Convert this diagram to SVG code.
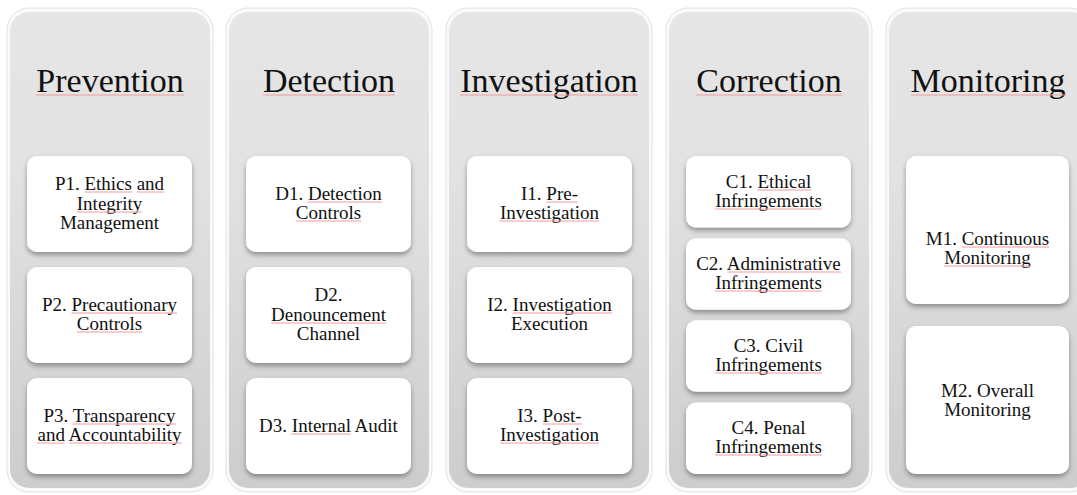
<svg xmlns="http://www.w3.org/2000/svg" width="1077" height="495" viewBox="0 0 1077 495">
<style>
.colrim{fill:#fafafa;stroke:#e2e2e2;stroke-width:1}
.colbody{fill:url(#colg)}
.node{fill:#ffffff;filter:url(#sh)}
.title{font-family:"Liberation Serif","Times New Roman",serif;font-size:34px;fill:#111;text-anchor:middle}
.lbl{font-family:"Liberation Serif","Times New Roman",serif;font-size:19px;fill:#111;text-anchor:middle}
.ul{stroke:#f19a9a;stroke-width:1;fill:none}
</style>
<defs>
<linearGradient id="colg" x1="0" y1="0" x2="0" y2="1">
<stop offset="0" stop-color="#e6e6e6"/>
<stop offset="0.35" stop-color="#e2e2e2"/>
<stop offset="1" stop-color="#cdcdcd"/>
</linearGradient>
<filter id="sh" x="-10%" y="-10%" width="120%" height="130%">
<feDropShadow dx="0" dy="3" stdDeviation="2.5" flood-color="#000" flood-opacity="0.35"/>
</filter>
</defs>
<rect width="1077" height="495" fill="#ffffff"/>

<g id="col-prevention">
<rect class="colrim" x="7" y="8" width="206" height="484" rx="22"/>
<rect class="colbody" x="10" y="12" width="200" height="476" rx="19"/>
<text class="title" x="110" y="92">Prevention</text>
<line class="ul" x1="36" y1="95" x2="184" y2="95"/>
</g>
<g id="col-detection">
<rect class="colrim" x="226" y="8" width="206" height="484" rx="22"/>
<rect class="colbody" x="229" y="12" width="200" height="476" rx="19"/>
<text class="title" x="329" y="92">Detection</text>
<line class="ul" x1="263" y1="95" x2="395" y2="95"/>
</g>
<g id="col-investigation">
<rect class="colrim" x="446" y="8" width="206" height="484" rx="22"/>
<rect class="colbody" x="449" y="12" width="200" height="476" rx="19"/>
<text class="title" x="549" y="92">Investigation</text>
<line class="ul" x1="460" y1="95" x2="638" y2="95"/>
</g>
<g id="col-correction">
<rect class="colrim" x="666" y="8" width="206" height="484" rx="22"/>
<rect class="colbody" x="669" y="12" width="200" height="476" rx="19"/>
<text class="title" x="769" y="92">Correction</text>
<line class="ul" x1="696" y1="95" x2="842" y2="95"/>
</g>
<g id="col-monitoring">
<rect class="colrim" x="886" y="8" width="206" height="484" rx="22"/>
<rect class="colbody" x="889" y="12" width="200" height="476" rx="19"/>
<text class="title" x="988" y="92">Monitoring</text>
<line class="ul" x1="911" y1="95" x2="1066" y2="95"/>
</g>

<g id="P1">
<rect class="node" x="27" y="156" width="165" height="96" rx="10"/>
<text class="lbl" x="109.5" y="190">P1. Ethics and</text>
<text class="lbl" x="109.5" y="210">Integrity</text>
<text class="lbl" x="109.5" y="229">Management</text>
<path class="ul" d="M84.5 192H132M136.8 192H164.2M76.8 212H142.2"/>
</g>
<g id="P2">
<rect class="node" x="27" y="267" width="165" height="96" rx="10"/>
<text class="lbl" x="109.5" y="311">P2. Precautionary</text>
<text class="lbl" x="109.5" y="330">Controls</text>
<path class="ul" d="M71.5 313H177M76.8 332H142.2"/>
</g>
<g id="P3">
<rect class="node" x="27" y="378" width="165" height="96" rx="10"/>
<text class="lbl" x="109.5" y="422">P3. Transparency</text>
<text class="lbl" x="109.5" y="441">and Accountability</text>
<path class="ul" d="M72.6 424H176M37.1 443H64.5M69.3 443H181.9"/>
</g>

<g id="D1">
<rect class="node" x="246" y="156" width="165" height="96" rx="10"/>
<text class="lbl" x="328.5" y="200">D1. Detection</text>
<text class="lbl" x="328.5" y="219">Controls</text>
<path class="ul" d="M307.9 202H381.8M295.8 221H361.3"/>
</g>
<g id="D2">
<rect class="node" x="246" y="267" width="165" height="96" rx="10"/>
<text class="lbl" x="328.5" y="301">D2.</text>
<text class="lbl" x="328.5" y="321">Denouncement</text>
<text class="lbl" x="328.5" y="340">Channel</text>
<path class="ul" d="M271 323H386"/>
</g>
<g id="D3">
<rect class="node" x="246" y="378" width="165" height="96" rx="10"/>
<text class="lbl" x="328.5" y="432">D3. Internal Audit</text>
<path class="ul" d="M291.3 434H350.4"/>
</g>

<g id="I1">
<rect class="node" x="467" y="156" width="165" height="96" rx="10"/>
<text class="lbl" x="549.5" y="200">I1. Pre-</text>
<text class="lbl" x="549.5" y="219">Investigation</text>
<path class="ul" d="M546.3 202H578M499.9 221H599.1"/>
</g>
<g id="I2">
<rect class="node" x="467" y="267" width="165" height="96" rx="10"/>
<text class="lbl" x="549.5" y="311">I2. Investigation</text>
<text class="lbl" x="549.5" y="330">Execution</text>
<path class="ul" d="M512.5 313H611.8"/>
</g>
<g id="I3">
<rect class="node" x="467" y="378" width="165" height="96" rx="10"/>
<text class="lbl" x="549.5" y="422">I3. Post-</text>
<text class="lbl" x="549.5" y="441">Investigation</text>
<path class="ul" d="M542.6 424H581.7M499.9 443H599.1"/>
</g>

<g id="C1">
<rect class="node" x="686" y="156" width="165" height="71.5" rx="10"/>
<text class="lbl" x="768.5" y="188">C1. Ethical</text>
<text class="lbl" x="768.5" y="207">Infringements</text>
<path class="ul" d="M757.4 190H811.3M715.2 209H821.8"/>
</g>
<g id="C2">
<rect class="node" x="686" y="238.2" width="165" height="71.5" rx="10"/>
<text class="lbl" x="768.5" y="270">C2. Administrative</text>
<text class="lbl" x="768.5" y="289">Infringements</text>
<path class="ul" d="M727.4 272H841.4M715.2 291H821.8"/>
</g>
<g id="C3">
<rect class="node" x="686" y="320.3" width="165" height="71.5" rx="10"/>
<text class="lbl" x="768.5" y="352">C3. Civil</text>
<text class="lbl" x="768.5" y="371">Infringements</text>
<path class="ul" d="M715.2 373H821.8"/>
</g>
<g id="C4">
<rect class="node" x="686" y="402.5" width="165" height="71.5" rx="10"/>
<text class="lbl" x="768.5" y="434">C4. Penal</text>
<text class="lbl" x="768.5" y="453">Infringements</text>
<path class="ul" d="M715.2 455H821.8"/>
</g>

<g id="M1">
<rect class="node" x="906" y="156" width="163" height="148" rx="10"/>
<text class="lbl" x="987.5" y="245">M1. Continuous</text>
<text class="lbl" x="987.5" y="264">Monitoring</text>
<path class="ul" d="M961.6 247H1049.3M944.2 266H1030.8"/>
</g>
<g id="M2">
<rect class="node" x="906" y="326" width="163" height="148" rx="10"/>
<text class="lbl" x="987.5" y="397">M2. Overall</text>
<text class="lbl" x="987.5" y="416">Monitoring</text>
</g>

<g id="connectors"></g>
</svg>
